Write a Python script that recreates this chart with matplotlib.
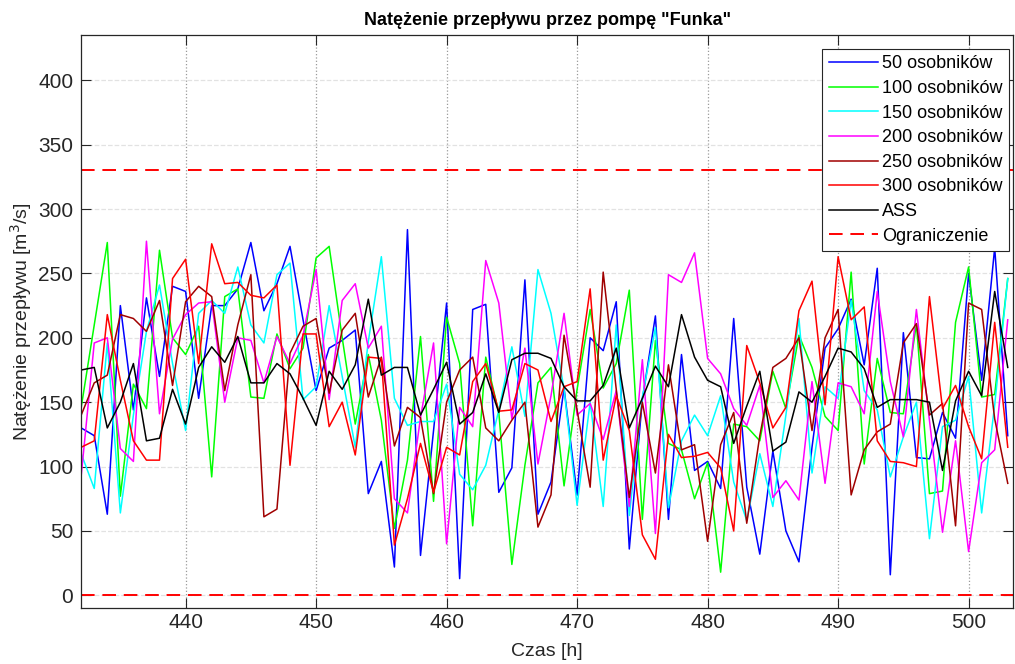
import numpy as np
import matplotlib
matplotlib.use('Agg')
import matplotlib.pyplot as plt

plt.rcParams['font.family'] = ['Liberation Sans', 'DejaVu Sans']

# godziny pomiaru
czas = list(range(432, 504))

# natezenie przeplywu dla kolejnych wielkosci populacji [m3/s]
q_50 = [130, 124, 63, 225, 144, 231, 170, 240, 236, 153, 225, 225, 238, 274, 221, 242, 271, 214,
        159, 192, 198, 206, 79, 104, 22, 284, 31, 128, 227, 13, 222, 226, 80, 99, 245, 63,
        88, 161, 78, 200, 190, 228, 36, 152, 217, 59, 187, 97, 104, 83, 215, 84, 32, 112,
        50, 26, 115, 192, 207, 230, 179, 254, 16, 204, 107, 106, 142, 122, 250, 167, 270, 124]
q_100 = [146, 210, 274, 77, 164, 145, 268, 200, 187, 209, 92, 232, 238, 154, 153, 203, 176, 192,
         262, 271, 200, 133, 187, 136, 52, 105, 201, 73, 216, 180, 54, 185, 142, 24, 101, 165,
         177, 85, 160, 222, 161, 180, 237, 59, 198, 118, 113, 75, 103, 18, 133, 131, 120, 174,
         145, 202, 177, 139, 128, 251, 102, 184, 142, 141, 211, 79, 81, 212, 255, 154, 156, 246]
q_150 = [110, 83, 196, 64, 140, 205, 241, 180, 128, 219, 229, 219, 255, 210, 196, 249, 258, 152,
         162, 225, 170, 115, 197, 263, 153, 132, 135, 135, 164, 94, 82, 101, 144, 193, 139, 253,
         219, 160, 70, 150, 69, 210, 62, 154, 208, 68, 120, 140, 124, 155, 88, 58, 110, 69,
         140, 215, 95, 162, 153, 229, 159, 144, 92, 123, 150, 44, 131, 136, 170, 64, 148, 246]
q_200 = [93, 196, 200, 114, 104, 275, 141, 199, 218, 227, 228, 150, 200, 198, 165, 201, 180, 202,
         253, 152, 229, 242, 192, 209, 75, 64, 138, 196, 40, 146, 131, 260, 227, 137, 192, 102,
         155, 219, 140, 149, 121, 159, 69, 183, 48, 249, 243, 266, 184, 172, 145, 132, 163, 76,
         89, 74, 166, 87, 165, 162, 141, 236, 166, 123, 222, 136, 49, 120, 34, 103, 113, 214]
q_250 = [140, 165, 171, 218, 215, 205, 229, 163, 228, 240, 232, 159, 210, 249, 61, 67, 188, 209,
         215, 157, 206, 219, 154, 185, 116, 146, 138, 79, 150, 175, 185, 130, 120, 136, 150, 53,
         78, 202, 144, 84, 251, 160, 76, 150, 95, 179, 113, 117, 42, 117, 142, 56, 124, 177,
         184, 200, 128, 200, 222, 78, 113, 127, 133, 196, 211, 140, 149, 54, 227, 222, 137, 87]
q_300 = [115, 120, 218, 167, 120, 105, 105, 246, 261, 180, 273, 242, 243, 233, 231, 241, 101, 203,
         203, 131, 150, 109, 185, 184, 39, 75, 118, 80, 115, 109, 166, 180, 143, 144, 180, 175,
         135, 162, 166, 238, 105, 155, 128, 47, 28, 125, 107, 108, 111, 99, 50, 194, 165, 130,
         146, 221, 244, 148, 263, 214, 224, 120, 104, 103, 100, 232, 145, 163, 131, 106, 212, 115]
q_ass = [175, 177, 130, 150, 180, 120, 122, 160, 133, 177, 193, 181, 201, 165, 165, 180, 172, 153,
         132, 174, 160, 179, 230, 171, 177, 177, 140, 160, 181, 133, 142, 172, 142, 183, 188, 188,
         184, 162, 151, 151, 163, 192, 130, 153, 178, 162, 218, 185, 167, 162, 118, 147, 174, 112,
         119, 158, 150, 170, 192, 189, 176, 146, 152, 152, 152, 150, 97, 151, 174, 155, 236, 177]

# dopuszczalny zakres natezenia
q_min = 0
q_max = 330

serie = [q_50, q_100, q_150, q_200, q_250, q_300, q_ass]
etykiety = ['50 osobników', '100 osobników', '150 osobników', '200 osobników',
            '250 osobników', '300 osobników', 'ASS']
kolory = ['#0000ff', '#00ff00', '#00ffff', '#ff00ff', '#a00000', '#ff0000', '#000000']

fig = plt.figure(figsize=(10.15, 6.64), dpi=100)
ax = fig.add_axes([0.080, 0.084, 0.918, 0.863])

for q, lab, kol in zip(serie, etykiety, kolory):
    ax.plot(czas, q, color=kol, lw=1.1, label=lab)

ax.axhline(q_max, color='#ff0000', ls=(0, (7, 4)), lw=1.4, label='Ograniczenie')
ax.axhline(q_min, color='#ff0000', ls=(0, (7, 4)), lw=1.4)

ax.set_xlim(432, 503.4)
ax.set_ylim(-10, 435)
ax.set_xticks(np.arange(440, 501, 10))
ax.set_yticks(np.arange(0, 401, 50))
ax.tick_params(direction='in', length=7, width=0.8, top=True, right=True,
               labelsize=15, colors='#262626')
ax.tick_params(axis='y', pad=5.8)
ax.xaxis.grid(True, ls=':', color='#9a9a9a', lw=0.9)
ax.yaxis.grid(True, ls='--', color='#e2e2e2', lw=0.9)
for s in ax.spines.values():
    s.set_color('#262626')
    s.set_linewidth(0.9)

ax.set_title('Natężenie przepływu przez pompę "Funka"', fontsize=13, fontweight='bold', pad=7)
ax.set_xlabel('Czas [h]', fontsize=14, color='#262626', labelpad=8)
ax.set_ylabel('Natężenie przepływu [m$^3$/s]', fontsize=14, color='#262626', labelpad=3)

leg = ax.legend(loc='upper right', bbox_to_anchor=(0.9957, 0.9756), fontsize=13,
                fancybox=False, framealpha=1, edgecolor='#262626', handlelength=2.75,
                labelspacing=0.42, borderaxespad=0, handletextpad=0.22, borderpad=0.35)
leg.get_frame().set_linewidth(0.8)

plt.savefig('out.png', dpi=100)
